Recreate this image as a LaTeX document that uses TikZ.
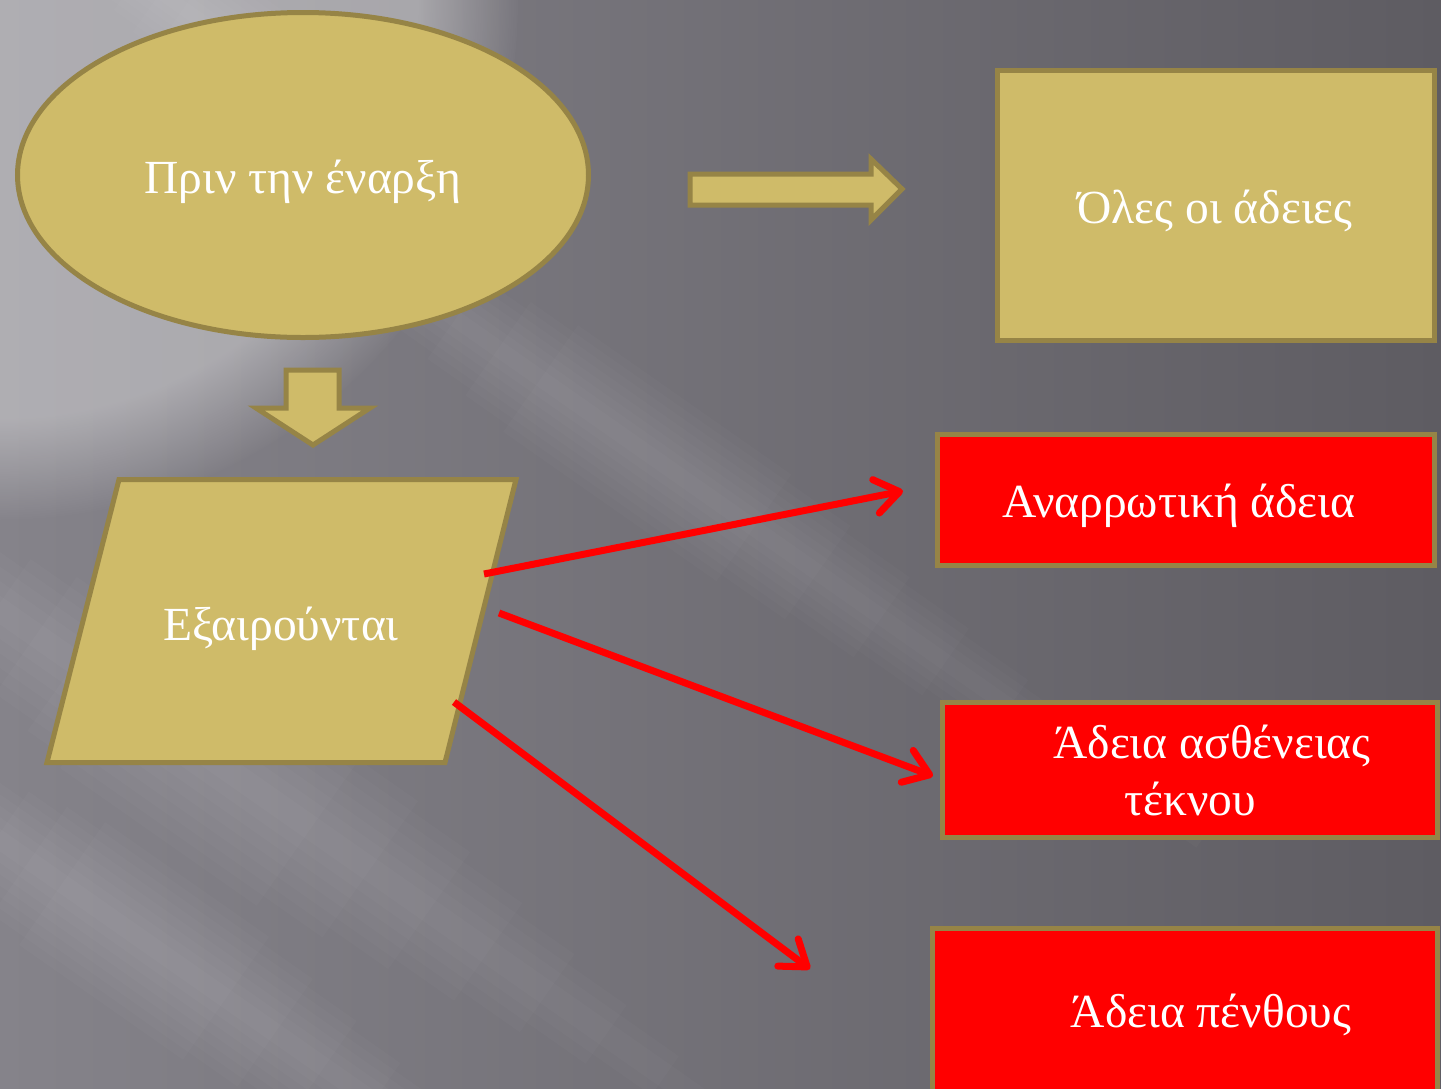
\documentclass[tikz,border=0pt]{standalone}
\usepackage{fontspec}
\setmainfont{Liberation Serif}
\usetikzlibrary{shapes.geometric,arrows.meta,fadings}
\definecolor{gold}{HTML}{CFBB69}
\definecolor{gborder}{HTML}{968446}
\definecolor{redbox}{HTML}{FF0000}
\definecolor{bgleft}{HTML}{85838A}
\definecolor{bgright}{HTML}{5E5C62}
\newcommand\softband[5]{% x, y, angle, length, halfwidth
  \begin{scope}[shift={(#1,#2)},rotate=#3]
    \foreach \k in {1,...,8}{
      \fill[white,opacity=0.02] ({#4*0.04*\k},{-#5*\k/8}) rectangle ({#4*(1-0.06*\k)},{#5*\k/8});
    }
  \end{scope}}
\begin{document}
\begin{tikzpicture}[x=1pt,y=-1pt,
  gshape/.style={fill=gold,draw=gborder,line width=5pt,line join=miter},
  rbox/.style={rectangle,fill=redbox,draw=gborder,line width=5pt,inner sep=0pt},
  gbox/.style={rectangle,fill=gold,draw=gborder,line width=5pt,inner sep=0pt},
  txt/.style={text=white,font=\fontsize{47.5}{56}\selectfont,anchor=base,inner sep=0pt},
  redarrow/.style={draw=redbox,line width=7pt,-{Straight Barb[length=24pt,width=34pt,line cap=round,line join=round]}}]
\useasboundingbox (0,0) rectangle (1441,1088);
\clip (0,0) rectangle (1441,1088);
% background
\shade[left color=bgleft,right color=bgright] (0,0) rectangle (1441,1088);
\fill[white,opacity=0.35,path fading=circle with fuzzy edge 20 percent] (0,0) circle (520);
\softband{200}{140}{-35}{1300}{65}
\softband{-200}{470}{-35}{1200}{95}
\softband{-200}{700}{-35}{1000}{75}
\softband{0}{-120}{-35}{700}{55}
% shapes
\node[ellipse,gshape,minimum width=571pt,minimum height=325pt,inner sep=0pt] (start) at (303,175) {};
\node[txt] (starttxt) at (303,193) {Πριν την έναρξη};
\path[gshape] (690,174) -- (871,174) -- (871,159) -- (902,189) -- (871,220) -- (871,205) -- (690,205) -- cycle;
\node[gbox,minimum width=437pt,minimum height=270pt] (all) at (1216,205) {};
\node[txt] (alltxt) at (1215,223) {Όλες οι άδειες};
\path[gshape] (286,370) -- (339,370) -- (339,408) -- (370,408) -- (313,445) -- (256,408) -- (286,408) -- cycle;
\coordinate (p1) at (119,479.5);
\coordinate (p2) at (516,479.5);
\coordinate (p3) at (445,762.5);
\coordinate (p4) at (47,762.5);
\path[gshape] (p1) -- (p2) -- (p3) -- (p4) -- cycle;
\node[txt] (exc) at (281,640) {Εξαιρούνται};
\node[rbox,minimum width=497pt,minimum height=131pt] (b1) at (1186,500) {};
\node[txt] (b1txt) at (1179,517) {Αναρρωτική άδεια};
\node[rbox,minimum width=495pt,minimum height=135pt] (b2) at (1190,770) {};
\node[txt] (b2txta) at (1212,758) {Άδεια ασθένειας};
\node[txt] (b2txtb) at (1190,815) {τέκνου};
\node[rbox,minimum width=505pt,minimum height=180pt] (b3) at (1185,1018) {};
\node[txt] (b3txt) at (1211,1027) {Άδεια πένθους};
% red connectors
\coordinate (s1) at (484,574);
\coordinate (e1) at (903,491);
\coordinate (s2) at (499,613);
\coordinate (e2) at (933,776);
\coordinate (s3) at (454,702);
\coordinate (e3) at (810,969);
\draw[redarrow] (s1) -- (e1);
\draw[redarrow] (s2) -- (e2);
\draw[redarrow] (s3) -- (e3);
\end{tikzpicture}
\end{document}
